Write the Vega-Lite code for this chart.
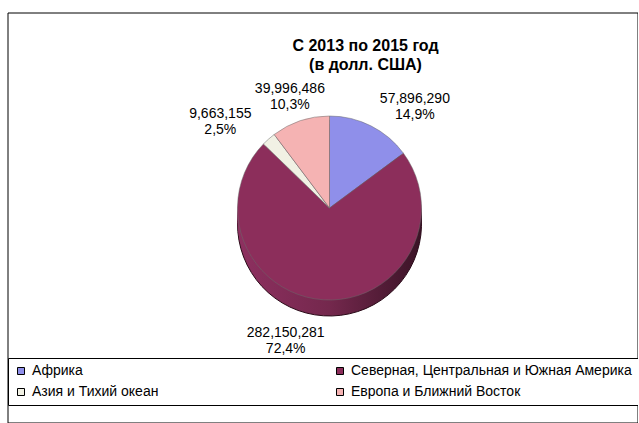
{
  "$schema": "https://vega.github.io/schema/vega-lite/v6.json",
  "width": 630,
  "height": 410,
  "padding": {"left": 8, "top": 13, "right": 0, "bottom": 0},
  "autosize": {"type": "none"},
  "background": "white",
  "title": {
    "text": ["С 2013 по 2015 год", "(в долл. США)"],
    "font": "Liberation Sans",
    "fontSize": 16,
    "fontWeight": "bold",
    "lineHeight": 19,
    "color": "black",
    "anchor": "middle",
    "dx": 42.5,
    "baseline": "top",
    "offset": -60
  },
  "datasets": {
    "regions": [
      {"region": "Африка", "value": 57896290, "order": 1, "label": ["57,896,290", "14,9%"]},
      {"region": "Северная, Центральная и Южная Америка", "value": 282150281, "order": 2, "label": ["282,150,281", "72,4%"]},
      {"region": "Азия и Тихий океан", "value": 9663155, "order": 3, "label": ["9,663,155", "2,5%"]},
      {"region": "Европа и Ближний Восток", "value": 39996486, "order": 4, "label": ["39,996,486", "10,3%"]}
    ],
    "frame": [{"name": "frame"}]
  },
  "layer": [
    {
      "data": {"name": "frame"},
      "mark": {"type": "rect", "fill": null, "stroke": "black", "strokeWidth": 1},
      "encoding": {}
    },
    {
      "data": {"name": "regions"},
      "encoding": {
        "theta": {"field": "value", "type": "quantitative", "stack": true},
        "order": {"field": "order", "type": "quantitative", "sort": "ascending"}
      },
      "layer": [
        {
          "mark": {"type": "arc", "radius": 92, "xOffset": 6.5, "yOffset": 6, "stroke": "#2a0a18", "strokeWidth": 1,
            "fill": {"gradient": "linear", "x1": 0, "y1": 0, "x2": 1, "y2": 0,
              "stops": [{"offset": 0, "color": "#8E3060"}, {"offset": 0.5, "color": "#74284D"}, {"offset": 1, "color": "#3A1326"}]}}
        },
        {
          "mark": {"type": "arc", "radius": 92, "xOffset": 6.5, "yOffset": 2,
            "fill": {"gradient": "linear", "x1": 0, "y1": 0, "x2": 1, "y2": 0,
              "stops": [{"offset": 0, "color": "#8E3060"}, {"offset": 0.5, "color": "#74284D"}, {"offset": 1, "color": "#3A1326"}]}}
        },
        {
          "mark": {"type": "arc", "radius": 92, "xOffset": 6.5, "yOffset": -2,
            "fill": {"gradient": "linear", "x1": 0, "y1": 0, "x2": 1, "y2": 0,
              "stops": [{"offset": 0, "color": "#8E3060"}, {"offset": 0.5, "color": "#74284D"}, {"offset": 1, "color": "#3A1326"}]}}
        },
        {
          "mark": {"type": "arc", "radius": 92, "xOffset": 6.5, "yOffset": -6,
            "fill": {"gradient": "linear", "x1": 0, "y1": 0, "x2": 1, "y2": 0,
              "stops": [{"offset": 0, "color": "#8E3060"}, {"offset": 0.5, "color": "#74284D"}, {"offset": 1, "color": "#3A1326"}]}}
        },
        {
          "mark": {"type": "arc", "radius": 92, "xOffset": 6.5, "yOffset": -10, "stroke": "#6a6a6a", "strokeWidth": 0.5},
          "encoding": {
            "color": {
              "field": "region",
              "type": "nominal",
              "scale": {
                "domain": ["Африка", "Азия и Тихий океан", "Северная, Центральная и Южная Америка", "Европа и Ближний Восток"],
                "range": ["#8F8FEA", "#F1F1E4", "#8C2E5B", "#F5B3B3"]
              },
              "legend": {
                "title": null,
                "orient": "none",
                "legendX": 0,
                "legendY": 345,
                "columns": 2,
                "columnPadding": 174,
                "rowPadding": 7,
                "padding": 6,
                "strokeColor": "black",
                "fillColor": "white",
                "symbolType": "square",
                "symbolSize": 49,
                "symbolStrokeColor": "black",
                "symbolStrokeWidth": 1,
                "symbolOpacity": 1,
                "labelFont": "Liberation Sans",
                "labelFontSize": 14,
                "labelColor": "black",
                "labelOffset": 4,
                "labelLimit": 400
              }
            }
          }
        },
        {
          "mark": {"type": "text", "radius": 122, "dx": 37, "dy": -10, "font": "Liberation Sans", "fontSize": 14, "lineHeight": 16, "color": "black", "align": "center", "baseline": "middle"},
          "encoding": {"text": {"condition": {"test": "datum.order == 1", "field": "label"}, "value": ""}}
        },
        {
          "mark": {"type": "text", "radius": 125, "dx": -29, "dy": -10, "font": "Liberation Sans", "fontSize": 14, "lineHeight": 16, "color": "black", "align": "center", "baseline": "middle"},
          "encoding": {"text": {"condition": {"test": "datum.order == 2", "field": "label"}, "value": ""}}
        },
        {
          "mark": {"type": "text", "radius": 125, "dx": -20, "dy": -10, "font": "Liberation Sans", "fontSize": 14, "lineHeight": 16, "color": "black", "align": "center", "baseline": "middle"},
          "encoding": {"text": {"condition": {"test": "datum.order == 3", "field": "label"}, "value": ""}}
        },
        {
          "mark": {"type": "text", "radius": 125, "dx": 6.5, "dy": -10, "font": "Liberation Sans", "fontSize": 14, "lineHeight": 16, "color": "black", "align": "center", "baseline": "middle"},
          "encoding": {"text": {"condition": {"test": "datum.order == 4", "field": "label"}, "value": ""}}
        }
      ]
    }
  ],
  "config": {
    "view": {"stroke": null}
  }
}
